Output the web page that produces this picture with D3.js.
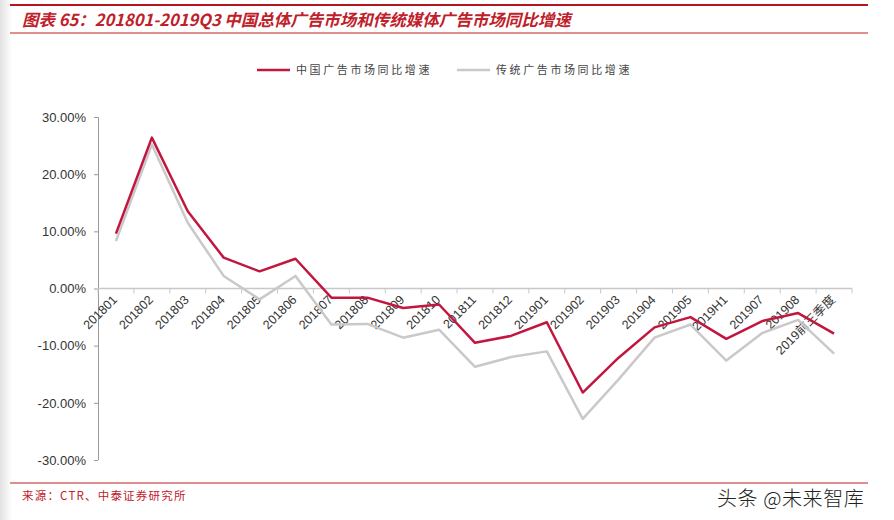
<!DOCTYPE html>
<html>
<head>
<meta charset="utf-8">
<script src="https://cdn.jsdelivr.net/npm/d3@7/dist/d3.min.js"></script>
<style>
  body { margin: 0; background: #fff; }
  svg { display: block; font-family: "Liberation Sans", Arial, sans-serif; }
  .axis text { fill: #333; }
</style>
</head>
<body>
<div id="chart"></div>
<script>
// categories (x axis)
const categories = ['201801', '201802', '201803', '201804', '201805', '201806', '201807', '201808',
  '201809', '201810', '201811', '201812', '201901', '201902', '201903', '201904', '201905',
  '2019H1', '201907', '201908', '2019前三季度'];
// 中国广告市场同比增速 (%)
const chinaAd = [9.6, 26.4, 13.5, 5.4, 3.0, 5.2, -1.6, -1.6, -3.4, -2.8, -9.5, -8.3, -5.9,
  -18.2, -12.1, -6.8, -5.0, -8.8, -5.7, -4.3, -7.9];
// 传统广告市场同比增速 (%)
const tradAd = [8.3, 25.2, 11.5, 2.2, -1.9, 2.2, -6.3, -6.2, -8.6, -7.2, -13.7, -12.0, -11.0,
  -22.8, -15.9, -8.6, -6.3, -12.6, -7.8, -5.5, -11.4];
const yTicks = [30, 20, 10, 0, -10, -20, -30];
const seriesNames = ['中国广告市场同比增速', '传统广告市场同比增速'];
const colors = ['#c3163f', '#c9c9c9'];

const W = 894, H = 520;
const margin = { left: 98, right: 42, top: 117, bottom: 60 };
const width = W - margin.left - margin.right;
const height = H - margin.top - margin.bottom;

const svg = d3.select('#chart').append('svg')
  .attr('width', W)
  .attr('height', H);

// page edge shadow on the left
const grad = svg.append('defs').append('linearGradient').attr('id', 'edge');
grad.append('stop').attr('offset', '0%').attr('stop-color', '#e2e2e2');
grad.append('stop').attr('offset', '100%').attr('stop-color', '#ffffff');
svg.append('rect').attr('x', 0).attr('y', 0).attr('width', 12).attr('height', H).attr('fill', 'url(#edge)');

// Title block
svg.append('line').attr('x1', 10).attr('x2', 868).attr('y1', 5).attr('y2', 5)
  .attr('stroke', '#b4161e').attr('stroke-width', 2);
svg.append('line').attr('x1', 10).attr('x2', 868).attr('y1', 33).attr('y2', 33)
  .attr('stroke', '#d46a6a').attr('stroke-width', 1.5);
svg.append('text')
  .attr('x', 22).attr('y', 26)
  .attr('fill', '#c0202a')
  .style('font-family', '"Noto Sans CJK SC", sans-serif')
  .style('font-size', '16.5px')
  .style('font-weight', 'bold')
  .style('font-style', 'italic')
  .text('图表 65：201801-2019Q3 中国总体广告市场和传统媒体广告市场同比增速');

// Footer
svg.append('line').attr('x1', 10).attr('x2', 868).attr('y1', 483).attr('y2', 483)
  .attr('stroke', '#d46a6a').attr('stroke-width', 1.5);
svg.append('text')
  .attr('x', 22).attr('y', 500)
  .attr('fill', '#c0202a')
  .style('font-family', '"Noto Sans CJK SC", sans-serif')
  .style('font-size', '11.5px')
  .style('letter-spacing', '1.2px')
  .text('来源：CTR、中泰证券研究所');

const g = svg.append('g')
  .attr('transform', 'translate(' + margin.left + ',' + margin.top + ')');

// Scales
const x = d3.scaleBand().domain(categories).range([0, width]);
const y = d3.scaleLinear().domain([-30, 30]).range([height, 0]);

// Y-axis
const yAxis = g.append('g').attr('class', 'axis')
  .call(d3.axisLeft(y).tickValues(yTicks).tickSize(4).tickPadding(8)
    .tickFormat(d => d.toFixed(2) + '%'));
yAxis.selectAll('text').style('font-size', '13px');
yAxis.selectAll('line, path').attr('stroke', '#999');
yAxis.select('.domain').attr('d', 'M-4,0.5H0.5V' + height);

// X-axis at 0, ticks at band boundaries
const xAxis = g.append('g').attr('class', 'axis')
  .attr('transform', 'translate(0,' + y(0) + ')');
xAxis.append('line').attr('x1', 0).attr('x2', width).attr('stroke', '#c8c8c8').attr('stroke-width', 1.5);
xAxis.selectAll('.tick-mark')
  .data(d3.range(categories.length + 1))
  .enter().append('line')
  .attr('class', 'tick-mark')
  .attr('x1', i => i * x.step()).attr('x2', i => i * x.step())
  .attr('y1', 0).attr('y2', 5)
  .attr('stroke', '#c8c8c8');
xAxis.selectAll('.xlabel')
  .data(categories)
  .enter().append('text')
  .attr('class', 'xlabel')
  .attr('transform', d => 'translate(' + (x(d) + x.bandwidth() / 2 + 2) + ',12) rotate(-45)')
  .attr('text-anchor', 'end')
  .style('font-size', '12.5px')
  .style('font-family', '"Liberation Sans", "Noto Sans CJK SC", sans-serif')
  .text(d => d);

// Lines
const line = d3.line()
  .x((d, i) => x(categories[i]) + x.bandwidth() / 2)
  .y(d => y(d));
[tradAd, chinaAd].forEach((data, k) => {
  g.append('path')
    .datum(data)
    .attr('fill', 'none')
    .attr('stroke', k === 0 ? colors[1] : colors[0])
    .attr('stroke-width', 2.5)
    .attr('stroke-linejoin', 'round')
    .attr('d', line);
});

// Legend
const legend = svg.append('g').attr('transform', 'translate(257,70)');
const legendX = [0, 200];
seriesNames.forEach((name, i) => {
  const item = legend.append('g').attr('transform', 'translate(' + legendX[i] + ',0)');
  item.append('line').attr('x1', 0).attr('x2', 33).attr('y1', 0).attr('y2', 0)
    .attr('stroke', colors[i]).attr('stroke-width', 2.5);
  item.append('text')
    .attr('x', 39).attr('y', 4)
    .attr('fill', '#444')
    .style('font-family', '"Noto Sans CJK SC", sans-serif')
    .style('font-size', '11px')
    .style('letter-spacing', '2.6px')
    .text(name);
});

// Watermark
svg.append('text')
  .attr('x', 717).attr('y', 506)
  .attr('fill', '#222')
  .attr('stroke', '#fff').attr('stroke-width', 3).attr('paint-order', 'stroke')
  .style('font-family', '"Noto Sans CJK SC", sans-serif')
  .style('font-size', '20px')
  .style('font-weight', '300')
  .style('letter-spacing', '0.6px')
  .text('头条 @未来智库');
</script>
</body>
</html>
